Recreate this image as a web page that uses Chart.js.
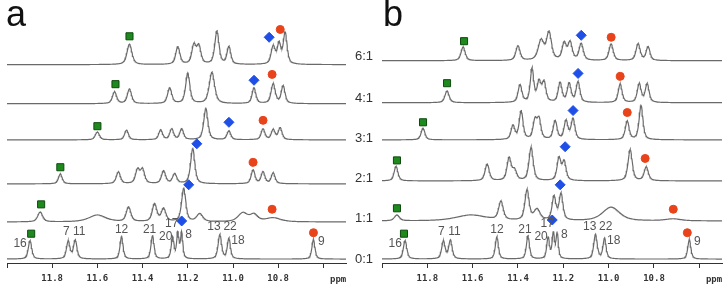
<!DOCTYPE html>
<html><head><meta charset="utf-8">
<script src="https://cdn.jsdelivr.net/npm/chart.js@4/dist/chart.umd.min.js"></script>
<style>
html,body{margin:0;padding:0;background:#fff}
body{width:728px;height:284px;overflow:hidden;position:relative;font-family:"Liberation Sans",Arial,sans-serif}
#wa{position:absolute;left:0;top:0;width:352px;height:284px}
#wb{position:absolute;left:368px;top:0;width:360px;height:284px}
.panel{position:absolute;top:-7px;font-size:36px;color:#111;font-family:"Liberation Sans",Arial,sans-serif}
.ratio{position:absolute;left:351px;width:26px;text-align:center;font-size:13px;color:#333;line-height:13px}
</style></head>
<body>
<div id="wa"><canvas id="ca"></canvas></div>
<div id="wb"><canvas id="cb"></canvas></div>
<div class="panel" style="left:6px">a</div>
<div class="panel" style="left:383px">b</div>
<div id="ratios"></div>
<script>
// ---- data (ppm, intensity, half-width in ppm) ----
const ratios = ['6:1','4:1','3:1','2:1','1:1','0:1'];
const tickValues = [12.0, 11.8, 11.6, 11.4, 11.2, 11.0, 10.8, 10.6];
const tickLabels = ['', '11.8', '11.6', '11.4', '11.2', '11.0', '10.8', ''];

// free ligand spectrum (0:1), identical in both panels
const peaks01 = [[11.898,19,0.009],[11.729,18,0.009],[11.698,19,0.009],[11.493,23,0.008],[11.356,24,0.008],
  [11.267,22,0.007],[11.244,26,0.006],[11.227,26,0.006],[11.058,25,0.009],[11.018,21,0.008],[10.644,20,0.008]];
const peakLabels = ['16','7','11','12','21','20','17','8','13','22','18','9'];
const peakLabelPpm = [11.942,11.738,11.680,11.493,11.369,11.298,11.271,11.196,11.084,11.013,10.978,10.609];
const peakLabelInt = [20,32,32,34,34,27,40,29,37,37,23,22];

// panel a
const a61 = [[11.458,21,0.013],[11.244,18,0.011],[11.173,19,0.011],[11.151,18,0.011],[11.071,34,0.011],
  [11.018,18,0.010],[10.822,18,0.011],[10.796,20,0.009],[10.769,32,0.010]];
const a41 = [[11.524,12,0.011],[11.458,15,0.011],[11.280,16,0.011],[11.200,31,0.011],[11.093,32,0.014],
  [10.907,16,0.010],[10.822,20,0.011],[10.778,18,0.010]];
const a31 = [[11.600,8,0.011],[11.471,10,0.010],[11.320,10,0.010],[11.271,11,0.010],[11.227,11,0.010],
  [11.120,32,0.011],[11.018,9,0.010],[10.867,11,0.010],[10.822,10,0.010],[10.791,12,0.010]];
const a21 = [[11.764,10,0.010],[11.507,12,0.011],[11.422,14,0.011],[11.400,14,0.011],[11.307,13,0.011],
  [11.258,10,0.011],[11.178,36,0.011],[10.911,14,0.010],[10.867,12,0.010],[10.822,11,0.010]];
const a11 = [[11.853,10,0.013],[11.600,7,0.045],[11.462,15,0.012],[11.347,18,0.012],[11.307,13,0.012],
  [11.218,34,0.011],[11.147,8,0.016],[10.956,9,0.025],[10.907,7,0.020],[10.822,4,0.040]];
const aBaselines = [203,163,126,81,42,4];

// panel b
const b61 = [[11.642,14,0.011],[11.400,15,0.011],[11.298,20,0.015],[11.263,28,0.013],[11.196,17,0.011],
  [11.170,18,0.011],[11.121,17,0.011],[10.989,17,0.011],[10.870,17,0.011],[10.826,14,0.010]];
const b41 = [[11.713,12,0.011],[11.391,18,0.010],[11.338,34,0.009],[11.307,20,0.010],[11.285,20,0.010],
  [11.214,20,0.010],[11.174,19,0.010],[11.135,21,0.010],[10.949,19,0.010],[10.865,19,0.010],[10.830,19,0.010]];
const b31 = [[11.819,12,0.010],[11.422,14,0.010],[11.386,29,0.010],[11.325,19,0.010],[11.307,20,0.010],
  [11.236,19,0.010],[11.188,19,0.010],[11.157,21,0.010],[10.918,19,0.010],[10.857,35,0.010]];
const b21 = [[11.938,15,0.010],[11.536,17,0.011],[11.439,23,0.011],[11.415,10,0.011],[11.342,34,0.011],
  [11.219,23,0.010],[11.196,19,0.010],[10.905,32,0.011],[10.834,14,0.011]];
const b11 = [[11.934,6,0.013],[11.607,6,0.080],[11.475,19,0.012],[11.360,31,0.011],[11.316,11,0.016],
  [11.241,24,0.010],[11.210,27,0.010],[10.989,14,0.045],[10.715,2,0.040]];
const bBaselines = [207,164,126,84,43,4];

// markers [ppm, intensity] from top trace (6:1) to bottom (0:1)
const aSquares  = [[11.458,232],[11.520,183],[11.600,140],[11.764,98],[11.849,60],[11.893,30]];
const aDiamonds = [[10.840,231],[10.907,187],[11.018,144],[11.160,122],[11.196,80],[11.227,43]];
const aCircles  = [[10.791,239],[10.827,193],[10.867,146],[10.911,103],[10.827,55],[10.644,31]];
const bSquares  = [[11.638,227],[11.713,184],[11.819,144],[11.934,105],[11.934,56],[11.903,30]];
const bDiamonds = [[11.121,233],[11.135,194],[11.157,156],[11.192,119],[11.214,80],[11.249,44]];
const bCircles  = [[10.989,231],[10.949,191],[10.918,154],[10.839,107],[10.715,55],[10.653,31]];

// ---- helpers ----
// pseudo-Voigt line shape (mix of Lorentzian and Gaussian)
function lineShape(peaks, base){
  const pts = [];
  for(let i=0;i<=600;i++){
    const x = 10.5 + i*0.0025;
    let y = base;
    for(const [p,h,w] of peaks){ const d=(x-p)/w; y += h*(0.6/(1+d*d) + 0.4*Math.exp(-0.693*d*d)); }
    pts.push({x, y});
  }
  return pts;
}
const toXY = arr => arr.map(([x,y])=>({x,y}));

const labelPlugin = {
  id:'labels',
  afterDatasetsDraw(chart){
    const {ctx, scales:{x,y}} = chart;
    ctx.save();
    ctx.fillStyle='#555';
    ctx.font='12px "Liberation Sans", Arial, sans-serif';
    ctx.textAlign='center'; ctx.textBaseline='middle';
    peakLabels.forEach((t,i)=>ctx.fillText(t, x.getPixelForValue(peakLabelPpm[i]), y.getPixelForValue(peakLabelInt[i])));
    ctx.fillStyle='#333';
    ctx.font='bold 9px "DejaVu Sans Mono", monospace';
    ctx.textBaseline='middle';
    ctx.fillText('ppm', x.getPixelForValue(10.535), chart.chartArea.bottom+17);
    ctx.restore();
  }
};

function makeChart(id, traces, bases, sq, di, ci, padL, padR){
  const datasets = [
    {type:'scatter', data:toXY(sq), pointStyle:'rect', pointRadius:5, backgroundColor:'#1e8a1e', borderColor:'#0f4a0f', borderWidth:1, order:0},
    {type:'scatter', data:toXY(di), pointStyle:'rectRot', pointRadius:5, backgroundColor:'#1f4fe6', borderColor:'#1f4fe6', borderWidth:1, order:0},
    {type:'scatter', data:toXY(ci), pointStyle:'circle', pointRadius:4, backgroundColor:'#e8431a', borderColor:'#e8431a', borderWidth:1, order:0}
  ];
  traces.forEach((pk,i)=>datasets.push({type:'line', data:lineShape(pk,bases[i]), borderColor:'#6a6a6a', borderWidth:1.2, pointRadius:0, tension:0, order:1}));
  return new Chart(document.getElementById(id), {
    type:'line',
    data:{datasets},
    options:{
      responsive:true, maintainAspectRatio:false, animation:false,
      layout:{padding:{left:padL, right:padR, top:0, bottom:0}},
      plugins:{legend:{display:false}, tooltip:{enabled:false}},
      scales:{
        x:{type:'linear', reverse:true, min:10.5, max:12.0,
          afterBuildTicks:s=>{ s.ticks = tickValues.map(v=>({value:v})); },
          afterFit:s=>{ s.height = 21; },
          ticks:{autoSkip:false, maxRotation:0, padding:5, color:'#333',
            font:{family:'"DejaVu Sans Mono", monospace', size:9, weight:'bold'},
            callback:(v,i)=>tickLabels[i]},
          grid:{drawOnChartArea:false, tickLength:5, color:'#333', lineWidth:1},
          border:{display:true, color:'#333', width:1}},
        y:{display:false, min:0, max:263}
      }
    },
    plugins:[labelPlugin]
  });
}

makeChart('ca', [a61,a41,a31,a21,a11,peaks01], aBaselines, aSquares, aDiamonds, aCircles, 7, 5);
makeChart('cb', [b61,b41,b31,b21,b11,peaks01], bBaselines, bSquares, bDiamonds, bCircles, 14, 6);

// ratio labels between the panels
const ratioY = [55,97,137,177,217,258];
const rc = document.getElementById('ratios');
ratios.forEach((r,i)=>{ const d=document.createElement('div'); d.className='ratio'; d.style.top=(ratioY[i]-6)+'px'; d.textContent=r; rc.appendChild(d); });
</script>
</body></html>
